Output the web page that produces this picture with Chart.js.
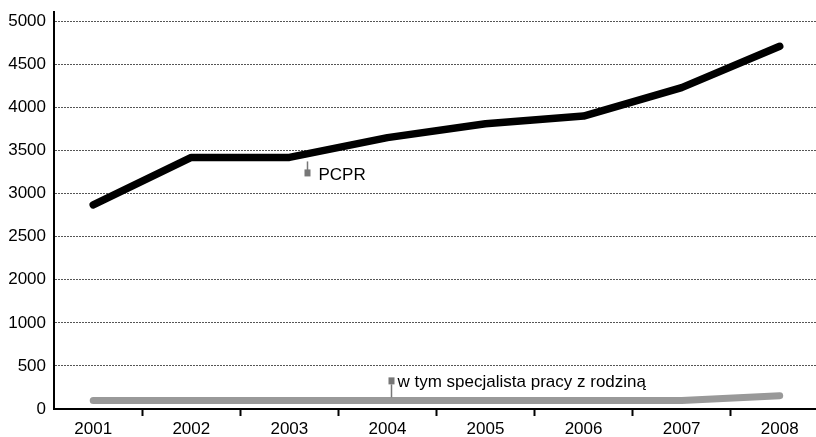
<!DOCTYPE html>
<html>
<head>
<meta charset="utf-8">
<script src="https://cdn.jsdelivr.net/npm/chart.js@4.4.1/dist/chart.umd.min.js"></script>
<style>
  html, body { margin: 0; padding: 0; background: #fff; overflow: hidden; }
  #wrap { width: 816px; height: 437px; position: relative; }
</style>
</head>
<body>
<div id="wrap"><canvas id="chart"></canvas></div>
<script>
// dane
const years = [2001, 2002, 2003, 2004, 2005, 2006, 2007, 2008];
const pcpr = [2870, 3420, 3420, 3650, 3810, 3900, 4230, 4710];
const specjalista = [100, 100, 100, 100, 100, 100, 100, 155];
// oś Y w oryginale pomija 1500 (równe odstępy między etykietami)
const yTickLabels = ['0', '500', '1000', '2000', '2500', '3000', '3500', '4000', '4500', '5000'];

const FONT = "'Liberation Sans', Arial, sans-serif";

// wartość rzeczywista -> pozycja na osi z przerwą 1000..2000
function toAxis(v) {
    if (v <= 1000) return v;
    if (v >= 2000) return v - 500;
    return 1000 + (v - 1000) / 2;
}

const annotations = [
    { text: 'PCPR', x: 2003.18, y: 3420, down: true },
    { text: 'w tym specjalista pracy z rodziną', x: 2004.04, y: 100, down: false }
];

const labelPlugin = {
    id: 'labels',
    afterDatasetsDraw(chart) {
        const ctx = chart.ctx;
        const xs = chart.scales.x;
        const ys = chart.scales.y;
        ctx.save();
        ctx.strokeStyle = '#777';
        ctx.lineWidth = 1.5;
        ctx.font = '17px ' + FONT;
        ctx.textBaseline = 'alphabetic';
        annotations.forEach(a => {
            const px = Math.round(xs.getPixelForValue(a.x)) + 0.5;
            const py = ys.getPixelForValue(toAxis(a.y));
            let sq, base;
            ctx.beginPath();
            if (a.down) {
                ctx.moveTo(px, py + 4);
                ctx.lineTo(px, py + 13);
                sq = py + 12;
                base = py + 23;
            } else {
                ctx.moveTo(px, py - 3);
                ctx.lineTo(px, py - 16);
                sq = py - 23;
                base = py - 13;
            }
            ctx.stroke();
            ctx.fillStyle = '#777';
            ctx.fillRect(px - 3, sq, 6, 7);
            ctx.fillStyle = '#000';
            ctx.fillText(a.text, px + (a.down ? 11 : 6), base);
        });
        ctx.restore();
    }
};

const ctx = document.getElementById('chart').getContext('2d');
const chart = new Chart(ctx, {
    type: 'line',
    data: {
        datasets: [{
            label: 'PCPR',
            data: years.map((y, i) => ({ x: y, y: toAxis(pcpr[i]) })),
            borderColor: '#000',
            borderWidth: 7.5,
            borderCapStyle: 'round',
            borderJoinStyle: 'round',
            pointRadius: 0,
            tension: 0
        }, {
            label: 'w tym specjalista pracy z rodziną',
            data: years.map((y, i) => ({ x: y, y: toAxis(specjalista[i]) })),
            borderColor: '#999',
            borderWidth: 7,
            borderCapStyle: 'round',
            borderJoinStyle: 'round',
            pointRadius: 0,
            tension: 0
        }]
    },
    options: {
        responsive: true,
        maintainAspectRatio: false,
        animation: false,
        layout: { padding: { top: 12, right: 0, left: 0, bottom: 0 } },
        plugins: {
            legend: { display: false },
            tooltip: { enabled: false }
        },
        scales: {
            x: {
                type: 'linear',
                min: 2000.6,
                max: 2008.37,
                afterBuildTicks: axis => {
                    const t = [];
                    years.forEach((y, i) => {
                        t.push({ value: y });
                        if (i < years.length - 1) t.push({ value: y + 0.5 });
                    });
                    axis.ticks = t;
                },
                afterFit: axis => {
                    axis.height = 28;
                    axis.paddingLeft = 0;
                    axis.paddingRight = 0;
                },
                grid: {
                    drawOnChartArea: false,
                    drawTicks: true,
                    tickLength: 7,
                    tickWidth: 2,
                    tickColor: c => (c.tick && c.tick.value % 1 !== 0) ? '#000' : 'rgba(0,0,0,0)'
                },
                border: { display: true, color: '#000', width: 2 },
                ticks: {
                    autoSkip: false,
                    maxRotation: 0,
                    padding: 3,
                    color: '#000',
                    font: { family: FONT, size: 17 },
                    callback: v => (v % 1 === 0 ? String(v) : '')
                }
            },
            y: {
                type: 'linear',
                min: 0,
                max: 4608,
                afterBuildTicks: axis => {
                    axis.ticks = yTickLabels.map((l, i) => ({ value: i * 500 }));
                },
                afterFit: axis => {
                    axis.width = 54;
                    axis.paddingTop = 0;
                    axis.paddingBottom = 0;
                },
                grid: {
                    color: '#555',
                    lineWidth: 1,
                    drawTicks: false
                },
                border: { display: true, color: '#000', width: 2, dash: [2, 1] },
                ticks: {
                    padding: 8,
                    color: '#000',
                    font: { family: FONT, size: 17 },
                    callback: (v, i) => yTickLabels[i]
                }
            }
        }
    },
    plugins: [labelPlugin]
});
</script>
</body>
</html>
